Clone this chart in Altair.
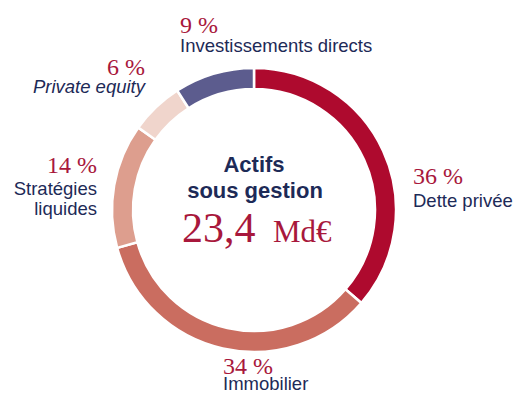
import altair as alt
import pandas as pd

# ---- data ----
categories = ["Dette privée", "Immobilier", "Stratégies liquides", "Private equity", "Investissements directs"]
shares = [36, 34, 14, 6, 9]
slice_colors = ["#AE0A2E", "#CA6D60", "#DD9E8E", "#F0D5CC", "#5C5C8E"]

pct_texts = ["36 %", "34 %", "14 %", "6 %", "9 %"]
name_texts = ["Dette privée", "Immobilier", "Stratégies", "liquides", "Private equity", "Investissements directs"]
title_texts = ["Actifs", "sous gestion"]
total_value = "23,4"
total_unit = "Md€"

# ---- layout (chart pixel coordinates, origin = top-left of plot) ----
W, H = 505, 387
CX, CY = 246, 202
R_OUT, R_IN = 142, 121

pct_pos = [(405, 176, "left"), (215, 366, "left"), (89, 165, "right"), (137, 67, "right"), (172, 25, "left")]
name_pos = [(405, 199, "left", "normal"), (215, 382, "left", "normal"), (89, 187, "right", "normal"),
            (89, 207, "right", "normal"), (137, 85, "right", "italic"), (172, 44, "left", "normal")]
title_pos = [(246, 164), (247, 190)]
value_pos = (174, 234)
unit_pos = (265, 234)

RED = "#A8183C"
NAVY = "#1D2A57"
SERIF = "Liberation Serif"
SANS = "Liberation Sans"

df = pd.DataFrame({"cat": categories, "share": shares, "idx": list(range(len(categories)))})

arc = alt.Chart(df).mark_arc(innerRadius=R_IN, outerRadius=R_OUT, stroke="white", strokeWidth=2.5).encode(
    theta=alt.Theta("share:Q", stack=True),
    color=alt.Color("cat:N", scale=alt.Scale(domain=categories, range=slice_colors), legend=None),
    order=alt.Order("idx:Q", sort="ascending"),
    x=alt.value(CX),
    y=alt.value(CY),
)

pct_df = pd.DataFrame({"t": pct_texts, "x": [p[0] for p in pct_pos], "y": [p[1] for p in pct_pos],
                       "a": [p[2] for p in pct_pos]})
name_df = pd.DataFrame({"t": name_texts, "x": [p[0] for p in name_pos], "y": [p[1] for p in name_pos],
                        "a": [p[2] for p in name_pos], "s": [p[3] for p in name_pos]})
title_df = pd.DataFrame({"t": title_texts, "x": [p[0] for p in title_pos], "y": [p[1] for p in title_pos]})

enc = dict(x=alt.X("x:Q", scale=None), y=alt.Y("y:Q", scale=None), text="t:N")

layers = [arc]
for al in ["left", "right"]:
    layers.append(alt.Chart(pct_df).transform_filter(alt.datum.a == al).mark_text(
        font=SERIF, fontSize=24, color=RED, align=al, baseline="alphabetic").encode(**enc))
    for st in ["normal", "italic"]:
        layers.append(alt.Chart(name_df).transform_filter((alt.datum.a == al) & (alt.datum.s == st)).mark_text(
            font=SANS, fontSize=18.5, fontStyle=st, color=NAVY, align=al, baseline="alphabetic").encode(**enc))

layers.append(alt.Chart(title_df).mark_text(
    font=SANS, fontSize=22, fontWeight="bold", color=NAVY, align="center", baseline="alphabetic").encode(**enc))

val_df = pd.DataFrame({"t": [total_value], "x": [value_pos[0]], "y": [value_pos[1]]})
unit_df = pd.DataFrame({"t": [total_unit], "x": [unit_pos[0]], "y": [unit_pos[1]]})
layers.append(alt.Chart(val_df).mark_text(
    font=SERIF, fontSize=42, color=RED, align="left", baseline="alphabetic").encode(**enc))
layers.append(alt.Chart(unit_df).mark_text(
    font=SERIF, fontSize=31, color=RED, align="left", baseline="alphabetic").encode(**enc))

chart = alt.layer(*layers).properties(
    width=W, height=H, autosize=alt.AutoSizeParams(type="none"), padding=0
).configure_view(stroke=None)

chart.save("out.html", embed_options={"renderer": "svg", "actions": False})
